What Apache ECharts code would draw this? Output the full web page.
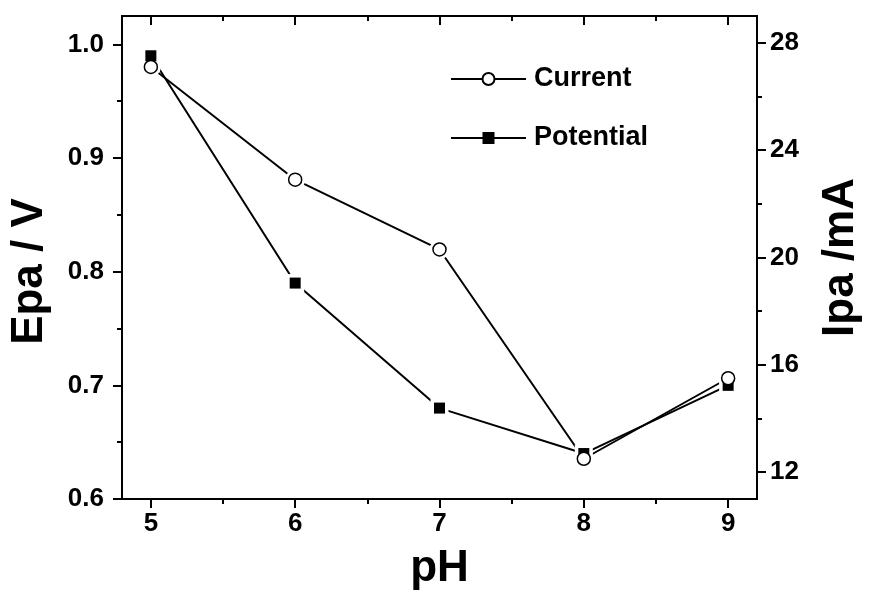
<!DOCTYPE html>
<html>
<head>
<meta charset="utf-8">
<script src="https://cdn.jsdelivr.net/npm/echarts@6/dist/echarts.min.js"></script>
<style>
  html, body { margin: 0; padding: 0; background: #fff; overflow: hidden; }
  #chart { width: 871px; height: 596px; }
</style>
</head>
<body>
<div id="chart"></div>
<script>
// pH dependence of anodic peak potential and peak current
const pH = [5, 6, 7, 8, 9];
const potential = [0.99, 0.79, 0.68, 0.64, 0.70];   // Epa / V
const current = [27.1, 22.9, 20.3, 12.5, 15.5];      // Ipa / mA

const xMajor = [5, 6, 7, 8, 9];
const xMinor = [5.5, 6.5, 7.5, 8.5];
const leftMajor = [0.6, 0.7, 0.8, 0.9, 1.0];
const leftMinor = [0.65, 0.75, 0.85, 0.95];
const rightMajor = [12, 16, 20, 24, 28];
const rightMinor = [14, 18, 22, 26];

const FONT = "'Liberation Sans', Arial, sans-serif";
const INK = '#000';
const HALO = '#fff';

const potentialPts = pH.map((x, i) => [x, potential[i]]);
const currentPts = pH.map((x, i) => [x, current[i]]);

function xAx(pos, ticks, len, inside, labels, extra) {
  return Object.assign({
    type: 'value', position: pos, min: 4.8, max: 9.2,
    axisLine: { show: true, onZero: false, lineStyle: { color: INK, width: 2 } },
    axisTick: { show: true, inside: inside, length: len, customValues: ticks,
                lineStyle: { color: INK, width: 2 } },
    axisLabel: labels ? { show: true, customValues: ticks, margin: 12,
                fontFamily: FONT, fontWeight: 'bold', fontSize: 26, color: INK }
              : { show: false },
    splitLine: { show: false }
  }, extra || {});
}

function yAx(pos, min, max, ticks, len, labels, fmt, margin, extra) {
  return Object.assign({
    type: 'value', position: pos, min: min, max: max,
    axisLine: { show: true, onZero: false, lineStyle: { color: INK, width: 2 } },
    axisTick: { show: true, inside: false, length: len, customValues: ticks,
                lineStyle: { color: INK, width: 2 } },
    axisLabel: labels ? { show: true, customValues: ticks, margin: margin, formatter: fmt,
                fontFamily: FONT, fontWeight: 'bold', fontSize: 26, color: INK }
              : { show: false },
    splitLine: { show: false }
  }, extra || {});
}

const titleStyle = { fontFamily: FONT, fontWeight: 'bold', fontSize: 44, color: INK };

const option = {
  backgroundColor: '#fff',
  animation: false,
  grid: { left: 117, top: 16, right: 98, bottom: 90 },
  legend: {
    orient: 'vertical', left: 445, top: 59,
    itemWidth: 75, itemHeight: 15, itemGap: 29,
    textStyle: { fontFamily: FONT, fontWeight: 'bold', fontSize: 27, color: INK,
                 lineHeight: 30, padding: [0, 0, 0, 3] },
    data: ['Current', 'Potential']
  },
  xAxis: [
    xAx('bottom', xMajor, 9, false, true,
        { name: 'pH', nameLocation: 'middle', nameGap: 48, nameTextStyle: titleStyle }),
    xAx('bottom', xMinor, 5, false, false),
    xAx('top', xMajor, 9, true, false),
    xAx('top', xMinor, 5, true, false)
  ],
  yAxis: [
    yAx('left', 0.6, 1.025, leftMajor, 9, true, v => v.toFixed(1), 18,
        { name: 'Epa / V', nameLocation: 'middle', nameGap: 70,
          nameTextStyle: Object.assign({ padding: [0, 28, 0, 0] }, titleStyle) }),
    yAx('left', 0.6, 1.025, leftMinor, 5, false),
    yAx('right', 11, 29, rightMajor, 9, true, v => String(v), 13,
        { name: 'Ipa /mA', nameLocation: 'middle', nameGap: 62, nameRotate: 90, nameTextStyle: titleStyle }),
    yAx('right', 11, 29, rightMinor, 5, false)
  ],
  series: [
    { name: 'Current', type: 'line', xAxisIndex: 0, yAxisIndex: 2, z: 2,
      data: currentPts, symbol: 'circle', symbolSize: 13,
      lineStyle: { color: INK, width: 2 },
      itemStyle: { color: '#fff', borderColor: INK, borderWidth: 1.5 } },
    { name: 'Potential', type: 'line', xAxisIndex: 0, yAxisIndex: 0, z: 2,
      data: potentialPts, symbol: 'rect', symbolSize: 11,
      lineStyle: { color: INK, width: 2 },
      itemStyle: { color: INK, borderColor: INK, borderWidth: 0 } },
    // white halos leave a small gap where the lines meet the markers
    { type: 'scatter', xAxisIndex: 0, yAxisIndex: 0, z: 3, silent: true,
      data: potentialPts, symbol: 'rect', symbolSize: 18,
      itemStyle: { color: HALO, opacity: 1 } },
    { type: 'scatter', xAxisIndex: 0, yAxisIndex: 2, z: 3, silent: true,
      data: currentPts, symbol: 'circle', symbolSize: 20,
      itemStyle: { color: HALO, opacity: 1 } },
    { type: 'scatter', xAxisIndex: 0, yAxisIndex: 0, z: 4, silent: true,
      data: potentialPts, symbol: 'rect', symbolSize: 11,
      itemStyle: { color: INK, opacity: 1 } },
    { type: 'scatter', xAxisIndex: 0, yAxisIndex: 2, z: 5, silent: true,
      data: currentPts, symbol: 'circle', symbolSize: 13,
      itemStyle: { color: '#fff', borderColor: INK, borderWidth: 1.5, opacity: 1 } }
  ]
};

echarts.init(document.getElementById('chart'), null, { renderer: 'canvas' }).setOption(option);
</script>
</body>
</html>
